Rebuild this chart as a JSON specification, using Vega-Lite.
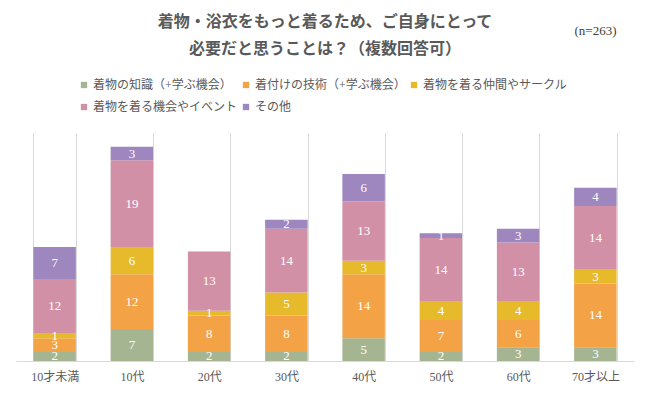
{
  "$schema": "https://vega.github.io/schema/vega-lite/v6.json",
  "width": 618,
  "height": 228,
  "autosize": {"type": "none"},
  "padding": {"left": 16, "top": 133, "right": 17, "bottom": 35},
  "background": "white",
  "title": {
    "text": ["着物・浴衣をもっと着るため、ご自身にとって", "必要だと思うことは？（複数回答可）"],
    "font": "'Liberation Serif', 'Noto Sans CJK JP'",
    "fontSize": 16,
    "fontWeight": "bold",
    "color": "#595959",
    "lineHeight": 27,
    "anchor": "middle",
    "offset": -33
  },
  "config": {
    "view": {"stroke": null},
    "font": "'Liberation Serif', 'Noto Sans CJK JP'"
  },
  "data": {
    "values": [
      {"age": "10才未満", "cat": "着物の知識（+学ぶ機会）", "ord": 1, "v": 2},
      {"age": "10才未満", "cat": "着付けの技術（+学ぶ機会）", "ord": 2, "v": 3},
      {"age": "10才未満", "cat": "着物を着る仲間やサークル", "ord": 3, "v": 1},
      {"age": "10才未満", "cat": "着物を着る機会やイベント", "ord": 4, "v": 12},
      {"age": "10才未満", "cat": "その他", "ord": 5, "v": 7},
      {"age": "10代", "cat": "着物の知識（+学ぶ機会）", "ord": 1, "v": 7},
      {"age": "10代", "cat": "着付けの技術（+学ぶ機会）", "ord": 2, "v": 12},
      {"age": "10代", "cat": "着物を着る仲間やサークル", "ord": 3, "v": 6},
      {"age": "10代", "cat": "着物を着る機会やイベント", "ord": 4, "v": 19},
      {"age": "10代", "cat": "その他", "ord": 5, "v": 3},
      {"age": "20代", "cat": "着物の知識（+学ぶ機会）", "ord": 1, "v": 2},
      {"age": "20代", "cat": "着付けの技術（+学ぶ機会）", "ord": 2, "v": 8},
      {"age": "20代", "cat": "着物を着る仲間やサークル", "ord": 3, "v": 1},
      {"age": "20代", "cat": "着物を着る機会やイベント", "ord": 4, "v": 13},
      {"age": "30代", "cat": "着物の知識（+学ぶ機会）", "ord": 1, "v": 2},
      {"age": "30代", "cat": "着付けの技術（+学ぶ機会）", "ord": 2, "v": 8},
      {"age": "30代", "cat": "着物を着る仲間やサークル", "ord": 3, "v": 5},
      {"age": "30代", "cat": "着物を着る機会やイベント", "ord": 4, "v": 14},
      {"age": "30代", "cat": "その他", "ord": 5, "v": 2},
      {"age": "40代", "cat": "着物の知識（+学ぶ機会）", "ord": 1, "v": 5},
      {"age": "40代", "cat": "着付けの技術（+学ぶ機会）", "ord": 2, "v": 14},
      {"age": "40代", "cat": "着物を着る仲間やサークル", "ord": 3, "v": 3},
      {"age": "40代", "cat": "着物を着る機会やイベント", "ord": 4, "v": 13},
      {"age": "40代", "cat": "その他", "ord": 5, "v": 6},
      {"age": "50代", "cat": "着物の知識（+学ぶ機会）", "ord": 1, "v": 2},
      {"age": "50代", "cat": "着付けの技術（+学ぶ機会）", "ord": 2, "v": 7},
      {"age": "50代", "cat": "着物を着る仲間やサークル", "ord": 3, "v": 4},
      {"age": "50代", "cat": "着物を着る機会やイベント", "ord": 4, "v": 14},
      {"age": "50代", "cat": "その他", "ord": 5, "v": 1},
      {"age": "60代", "cat": "着物の知識（+学ぶ機会）", "ord": 1, "v": 3},
      {"age": "60代", "cat": "着付けの技術（+学ぶ機会）", "ord": 2, "v": 6},
      {"age": "60代", "cat": "着物を着る仲間やサークル", "ord": 3, "v": 4},
      {"age": "60代", "cat": "着物を着る機会やイベント", "ord": 4, "v": 13},
      {"age": "60代", "cat": "その他", "ord": 5, "v": 3},
      {"age": "70才以上", "cat": "着物の知識（+学ぶ機会）", "ord": 1, "v": 3},
      {"age": "70才以上", "cat": "着付けの技術（+学ぶ機会）", "ord": 2, "v": 14},
      {"age": "70才以上", "cat": "着物を着る仲間やサークル", "ord": 3, "v": 3},
      {"age": "70才以上", "cat": "着物を着る機会やイベント", "ord": 4, "v": 14},
      {"age": "70才以上", "cat": "その他", "ord": 5, "v": 4}
    ]
  },
  "encoding": {
    "x": {
      "field": "age",
      "type": "nominal",
      "sort": ["10才未満", "10代", "20代", "30代", "40代", "50代", "60代", "70才以上"],
      "scale": {"paddingInner": 0.45, "paddingOuter": 0.225},
      "axis": {
        "title": null,
        "labelAngle": 0,
        "labelFontSize": 12,
        "labelColor": "#595959",
        "labelPadding": 10,
        "ticks": false,
        "domainColor": "#d9d9d9",
        "domainWidth": 1,
        "grid": true,
        "gridColor": "#d9d9d9",
        "gridWidth": 1,
        "tickBand": "extent"
      }
    },
    "y": {
      "field": "v",
      "type": "quantitative",
      "stack": "zero",
      "scale": {"domain": [0, 50], "nice": false},
      "axis": {
        "orient": "right",
        "title": "(n=263)",
        "titleFontSize": 13,
        "titleFontWeight": "normal",
        "titleColor": "#404040",
        "titleAngle": 0,
        "titleAlign": "center",
        "titleBaseline": "middle",
        "titleX": -39,
        "titleY": -103,
        "labels": false,
        "ticks": false,
        "domain": false,
        "grid": false
      }
    },
    "order": {"field": "ord", "type": "quantitative"}
  },
  "layer": [
    {
      "mark": {"type": "bar"},
      "encoding": {
        "color": {
          "field": "cat",
          "type": "nominal",
          "scale": {
            "domain": ["着物の知識（+学ぶ機会）", "着付けの技術（+学ぶ機会）", "着物を着る仲間やサークル", "着物を着る機会やイベント", "その他"],
            "range": ["#a5b592", "#f3a346", "#e6ba2b", "#d190a6", "#9e86bf"]
          },
          "legend": {
            "title": null,
            "orient": "none",
            "legendX": 62,
            "legendY": -54,
            "direction": "horizontal",
            "columns": 3,
            "symbolType": "square",
            "symbolSize": 40,
            "symbolStrokeWidth": 0,
            "symbolOffset": 0,
            "labelOffset": 3,
            "labelFontSize": 12,
            "labelColor": "#595959",
            "labelLimit": 300,
            "columnPadding": 2,
            "rowPadding": 10
          }
        }
      }
    },
    {
      "mark": {"type": "text", "color": "white", "fontSize": 13, "baseline": "middle"},
      "encoding": {
        "y": {"field": "v", "type": "quantitative", "stack": "zero", "bandPosition": 0.5},
        "detail": {"field": "cat"},
        "text": {"field": "v", "type": "quantitative"}
      }
    }
  ]
}
